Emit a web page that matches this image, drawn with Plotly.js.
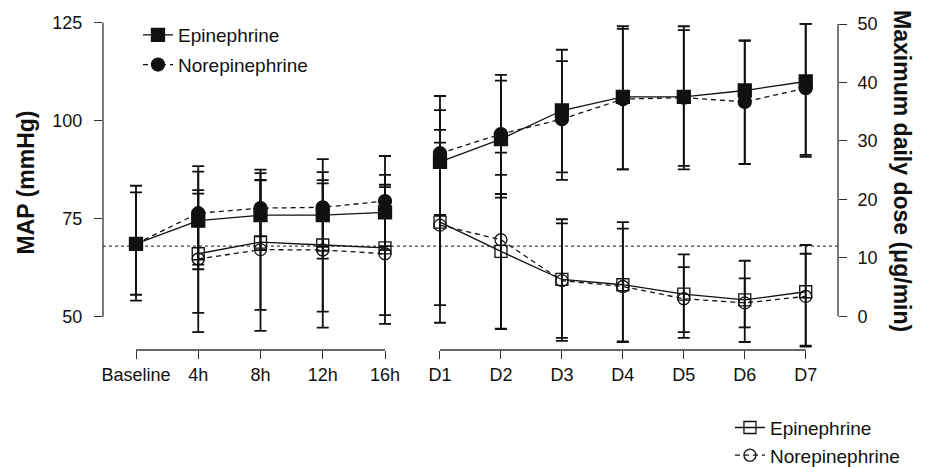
<!DOCTYPE html>
<html>
<head>
<meta charset="utf-8">
<script src="https://cdn.plot.ly/plotly-3.0.1.min.js"></script>
<style>html,body{margin:0;padding:0;background:#fff;}#chart{width:929px;height:467px;}</style>
</head>
<body>
<div id="chart"></div>
<script>
// ---- categories ----
const leftCats = ['Baseline', '4h', '8h', '12h', '16h'];
const rightCats = ['D1', 'D2', 'D3', 'D4', 'D5', 'D6', 'D7'];

// ---- MAP (mmHg), left axis ----
const mapEpiLeft = [68.6, 74.5, 75.9, 75.9, 76.6];
const mapEpiLeftUp = [13.1, 12.5, 8.9, 8.1, 9.6];
const mapEpiLeftDn = [13.0, 12.4, 8.9, 8.1, 9.6];
const mapNorLeft = [68.6, 76.4, 77.7, 77.9, 79.5];
const mapNorLeftUp = [14.8, 12.0, 7.2, 12.3, 11.5];
const mapNorLeftDn = [14.5, 13.1, 7.2, 13.1, 11.5];

const mapEpiRight = [89.5, 95.3, 102.6, 106.1, 106.1, 107.7, 110.0];
const mapEpiRightUp = [13.2, 14.9, 15.5, 18.0, 18.0, 12.8, 14.7];
const mapEpiRightDn = [13.5, 14.9, 15.8, 18.5, 18.5, 18.7, 19.2];
const mapNorRight = [91.7, 96.6, 100.4, 105.5, 105.9, 104.8, 108.3];
const mapNorRightUp = [14.6, 15.1, 14.8, 17.9, 17.2, 15.6, 16.4];
const mapNorRightDn = [15.7, 15.3, 15.5, 17.9, 17.4, 15.9, 17.0];

// ---- Maximum daily dose (µg/min), right axis ----
const doseEpiLeft = [null, 10.7, 12.7, 12.2, 11.7];
const doseEpiLeftUp = [null, 10.3, 11.8, 11.1, 10.4];
const doseEpiLeftDn = [null, 10.1, 11.6, 11.4, 11.5];
const doseNorLeft = [null, 9.8, 11.4, 11.35, 10.7];
const doseNorLeftUp = [null, 11.8, 13.7, 13.3, 11.8];
const doseNorLeftDn = [null, 12.5, 13.9, 13.3, 12.0];

const doseEpiRight = [16.1, 11.1, 6.3, 5.4, 3.8, 2.8, 4.2];
const doseEpiRightUp = [13.6, 13.1, 10.3, 9.6, 6.8, 6.7, 8.0];
const doseEpiRightDn = [14.2, 13.3, 10.5, 9.7, 6.5, 7.2, 9.2];
const doseNorRight = [15.6, 13.1, 6.1, 5.1, 3.0, 2.3, 3.4];
const doseNorRightUp = [16.3, 14.9, 9.8, 11.0, 5.4, 4.2, 7.3];
const doseNorRightDn = [16.7, 15.2, 9.8, 9.5, 6.7, 4.2, 8.6];

const refLineMAP = 68;
const mapTicks = [50, 75, 100, 125];
const doseTicks = [0, 10, 20, 30, 40, 50];
const leftTitle = 'MAP (mmHg)';
const rightTitle = 'Maximum daily dose (μg/min)';

// ---- styles ----
const INK = '#111';
const FONT = 'Liberation Sans, Arial, Helvetica, sans-serif';
function err(up, dn) {
  return {type: 'data', symmetric: false, array: up, arrayminus: dn,
          color: INK, thickness: 1.8, width: 6};
}
function tr(x, y, up, dn, xa, ya, name, group, legend, show, sym, dash, size) {
  return {
    type: 'scatter', mode: 'lines+markers', x: x, y: y,
    xaxis: xa, yaxis: ya, name: name, legendgroup: group, legend: legend,
    showlegend: show, connectgaps: false,
    line: {color: INK, width: 1.3, dash: dash},
    marker: {symbol: sym, size: size, color: INK, line: {color: INK, width: 1.3}},
    error_y: err(up, dn), hoverinfo: 'x+y+name'
  };
}

const data = [
  tr(leftCats, doseEpiLeft, doseEpiLeftUp, doseEpiLeftDn, 'x', 'y2', 'Epinephrine', 'de', 'legend2', true, 'square-open', 'solid', 12),
  tr(rightCats, doseEpiRight, doseEpiRightUp, doseEpiRightDn, 'x2', 'y2', 'Epinephrine', 'de', 'legend2', false, 'square-open', 'solid', 12),
  tr(leftCats, doseNorLeft, doseNorLeftUp, doseNorLeftDn, 'x', 'y2', 'Norepinephrine', 'dn', 'legend2', true, 'circle-open', '5px,4px', 12),
  tr(rightCats, doseNorRight, doseNorRightUp, doseNorRightDn, 'x2', 'y2', 'Norepinephrine', 'dn', 'legend2', false, 'circle-open', '5px,4px', 12),
  tr(leftCats, mapEpiLeft, mapEpiLeftUp, mapEpiLeftDn, 'x', 'y', 'Epinephrine', 'me', 'legend', true, 'square', 'solid', 13),
  tr(rightCats, mapEpiRight, mapEpiRightUp, mapEpiRightDn, 'x2', 'y', 'Epinephrine', 'me', 'legend', false, 'square', 'solid', 13),
  tr(leftCats, mapNorLeft, mapNorLeftUp, mapNorLeftDn, 'x', 'y', 'Norepinephrine', 'mn', 'legend', true, 'circle', '5px,4px', 13),
  tr(rightCats, mapNorRight, mapNorRightUp, mapNorRightDn, 'x2', 'y', 'Norepinephrine', 'mn', 'legend', false, 'circle', '5px,4px', 13)
];

const axisCommon = {
  showgrid: false, zeroline: false, showline: false,
  ticks: 'outside', ticklen: 8, tickwidth: 1.3, tickcolor: '#333',
  tickfont: {family: FONT, size: 18, color: INK}, fixedrange: true
};

const layout = {
  width: 929, height: 467,
  margin: {l: 103, r: 91, t: 15, b: 117, pad: 0, autoexpand: false},
  paper_bgcolor: '#fff', plot_bgcolor: '#fff',
  font: {family: FONT, size: 18, color: INK},
  xaxis: Object.assign({}, axisCommon, {
    type: 'category', range: [-0.5301, 11.277], ticklabelstandoff: 0
  }),
  xaxis2: Object.assign({}, axisCommon, {
    type: 'category', overlaying: 'x', anchor: 'y', side: 'bottom',
    range: [-5.529, 6.530], ticklabelstandoff: 0
  }),
  yaxis: Object.assign({}, axisCommon, {
    range: [41.505, 126.964], tickmode: 'array', tickvals: mapTicks,
    ticklabelstandoff: 8,
    title: {text: leftTitle, font: {family: FONT, size: 23, weight: 'bold', color: INK}, standoff: 11}
  }),
  yaxis2: Object.assign({}, axisCommon, {
    overlaying: 'y', side: 'right', anchor: 'x',
    range: [-5.765, 51.54], tickmode: 'array', tickvals: doseTicks,
    ticklabelstandoff: 7
  }),
  annotations: [
    {text: rightTitle, xref: 'paper', x: 1, xanchor: 'center', xshift: 64,
     yref: 'paper', y: 0.534, yanchor: 'middle', textangle: 90, showarrow: false,
     font: {family: FONT, size: 23, weight: 'bold', color: INK}}
  ],
  legend: {
    x: 0.0476, y: 0.997, xanchor: 'left', yanchor: 'top',
    bgcolor: 'rgba(0,0,0,0)', font: {family: FONT, size: 19, color: INK},
    traceorder: 'grouped', tracegroupgap: 2
  },
  legend2: {
    x: 0.853, y: -0.175, xanchor: 'left', yanchor: 'top',
    bgcolor: 'rgba(0,0,0,0)', font: {family: FONT, size: 19, color: INK},
    traceorder: 'grouped', tracegroupgap: 0
  },
  shapes: [
    {type: 'line', xref: 'paper', x0: 0, x1: 1, yref: 'y', y0: refLineMAP, y1: refLineMAP,
     line: {color: '#444', width: 1.3, dash: '3px,3px'}, layer: 'below'},
    {type: 'line', xref: 'paper', x0: 0, x1: 0, yref: 'y', y0: mapTicks[0], y1: mapTicks[mapTicks.length - 1],
     line: {color: '#333', width: 1.3}},
    {type: 'line', xref: 'paper', x0: 1, x1: 1, yref: 'y2', y0: doseTicks[0], y1: doseTicks[doseTicks.length - 1],
     line: {color: '#333', width: 1.3}},
    {type: 'line', xref: 'x', x0: 0, x1: leftCats.length - 1, yref: 'paper', y0: 0, y1: 0,
     line: {color: '#333', width: 1.3}},
    {type: 'line', xref: 'x2', x0: 0, x1: rightCats.length - 1, yref: 'paper', y0: 0, y1: 0,
     line: {color: '#333', width: 1.3}}
  ]
};

Plotly.newPlot('chart', data, layout, {displayModeBar: false, responsive: false});
</script>
</body>
</html>
